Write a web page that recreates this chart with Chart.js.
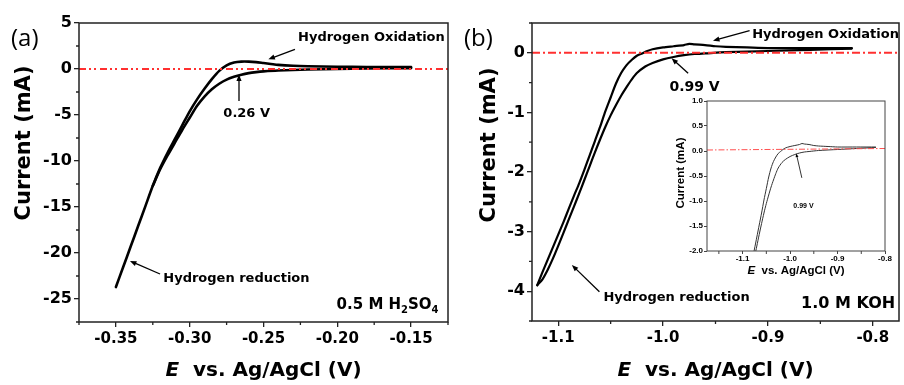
<!DOCTYPE html>
<html>
<head>
<meta charset="utf-8">
<script src="https://cdn.jsdelivr.net/npm/chart.js@4.4.1/dist/chart.umd.min.js"></script>
<style>
  html, body { margin: 0; padding: 0; background: #fff; }
  #wrap { position: relative; width: 904px; height: 385px; overflow: hidden; }
  canvas { position: absolute; }
</style>
</head>
<body>
<div id="wrap">
  <canvas id="chartA" width="456" height="385" style="left:0;top:0"></canvas>
  <canvas id="chartB" width="448" height="385" style="left:456px;top:0"></canvas>
  <canvas id="chartInset" width="235" height="190" style="left:665px;top:92px"></canvas>
</div>
<script>
// ---- (a) 0.5 M H2SO4 ----
const aAnodicE = [-0.350, -0.345, -0.340, -0.335, -0.330, -0.325, -0.320, -0.315, -0.310, -0.305, -0.300, -0.295,
  -0.290, -0.285, -0.280, -0.275, -0.270, -0.265, -0.260, -0.255, -0.250, -0.245, -0.240, -0.230, -0.220, -0.200,
  -0.180, -0.160, -0.150];
const aAnodicI = [-23.7, -21.5, -19.3, -17.1, -14.9, -12.7, -10.75, -9.1, -7.6, -6.1, -4.6, -3.3,
  -2.15, -1.1, -0.2, 0.4, 0.7, 0.8, 0.8, 0.75, 0.65, 0.55, 0.45, 0.35, 0.3, 0.25,
  0.22, 0.2, 0.2];
const aCathodicE = [-0.150, -0.180, -0.200, -0.220, -0.240, -0.250, -0.255, -0.260, -0.265, -0.270, -0.275, -0.280,
  -0.285, -0.290, -0.295, -0.300, -0.305, -0.310, -0.315, -0.320, -0.325];
const aCathodicI = [0.1, 0.05, 0.0, -0.06, -0.16, -0.26, -0.34, -0.45, -0.62, -0.85, -1.15, -1.6,
  -2.2, -3.0, -4.0, -5.3, -6.6, -8.0, -9.4, -10.9, -12.7];
const aXRange = [-0.375, -0.125];
const aYRange = [-27.5, 5];
const aXTicks = [-0.35, -0.30, -0.25, -0.20, -0.15];
const aXMinor = [-0.375, -0.325, -0.275, -0.225, -0.175, -0.125];
const aYTicks = [5, 0, -5, -10, -15, -20, -25];
const aYMinor = [2.5, -2.5, -7.5, -12.5, -17.5, -22.5, -27.5];

// ---- (b) 1.0 M KOH ----
const bAnodicE = [-1.120, -1.115, -1.110, -1.105, -1.100, -1.095, -1.090, -1.085, -1.080, -1.075, -1.070, -1.065,
  -1.060, -1.055, -1.050, -1.045, -1.040, -1.035, -1.030, -1.025, -1.020, -1.015, -1.010, -1.000, -0.990, -0.980,
  -0.975, -0.970, -0.960, -0.950, -0.940, -0.920, -0.900, -0.860, -0.820];
const bAnodicI = [-3.90, -3.68, -3.47, -3.26, -3.05, -2.84, -2.62, -2.40, -2.19, -1.96, -1.72, -1.48,
  -1.24, -0.98, -0.75, -0.52, -0.34, -0.21, -0.12, -0.05, -0.01, 0.03, 0.06, 0.09, 0.11, 0.13,
  0.15, 0.14, 0.13, 0.11, 0.10, 0.09, 0.08, 0.08, 0.08];
const bCathodicE = [-0.820, -0.860, -0.900, -0.940, -0.960, -0.970, -0.980, -0.990, -1.000, -1.010, -1.017, -1.025,
  -1.030, -1.035, -1.040, -1.045, -1.050, -1.055, -1.060, -1.065, -1.070, -1.075, -1.080, -1.085, -1.090, -1.095,
  -1.100, -1.105, -1.110, -1.115, -1.120];
const bCathodicI = [0.07, 0.05, 0.03, 0.01, -0.01, -0.02, -0.04, -0.07, -0.11, -0.17, -0.23, -0.34,
  -0.45, -0.58, -0.72, -0.88, -1.05, -1.24, -1.45, -1.67, -1.90, -2.13, -2.36, -2.58, -2.80, -3.02,
  -3.24, -3.45, -3.64, -3.80, -3.90];
const bXRange = [-1.125, -0.775];
const bYRange = [-4.5, 0.5];
const bXTicks = [-1.1, -1.0, -0.9, -0.8];
const bXMinor = [-1.05, -0.95, -0.85];
const bYTicks = [0, -1, -2, -3, -4];
const bYMinor = [0.5, -0.5, -1.5, -2.5, -3.5, -4.5];

// ---- inset of (b) ----
const insetXRange = [-1.175, -0.8];
const insetYRange = [-2, 1];
const insetZeroI = [0.02, 0.05];
const insetXTicks = [-1.1, -1.0, -0.9, -0.8];
const insetXMinor = [-1.15, -1.05, -0.95, -0.85];
const insetYTicks = [1.0, 0.5, 0.0, -0.5, -1.0, -1.5, -2.0];

const DV = '"DejaVu Sans", sans-serif';
const LS = '"Liberation Sans", Arial, sans-serif';

function toPoints(xs, ys) {
  return xs.map((x, i) => ({ x, y: ys[i] }));
}

function drawArrow(ctx, x1, y1, x2, y2, head) {
  const ang = Math.atan2(y2 - y1, x2 - x1);
  ctx.beginPath();
  ctx.moveTo(x1, y1);
  ctx.lineTo(x2 - Math.cos(ang) * head * 0.7, y2 - Math.sin(ang) * head * 0.7);
  ctx.stroke();
  ctx.beginPath();
  ctx.moveTo(x2, y2);
  ctx.lineTo(x2 - head * Math.cos(ang - 0.38), y2 - head * Math.sin(ang - 0.38));
  ctx.lineTo(x2 - head * Math.cos(ang + 0.38), y2 - head * Math.sin(ang + 0.38));
  ctx.closePath();
  ctx.fill();
}

// frame, minor ticks, axis titles and the arrows/notes
const decorPlugin = {
  id: "decor",
  afterDraw(chart, args, opts) {
    const { ctx, chartArea: area, scales } = chart;
    const sx = scales.x;
    const sy = scales.y;
    const px = (v) => sx.getPixelForValue(v);
    const py = (v) => sy.getPixelForValue(v);

    ctx.save();
    ctx.strokeStyle = opts.frameColor;
    ctx.lineWidth = opts.frameWidth;
    ctx.strokeRect(area.left, area.top, area.right - area.left, area.bottom - area.top);

    ctx.lineWidth = opts.tickWidth;
    ctx.beginPath();
    opts.minorX.forEach((v) => {
      const x = px(v);
      ctx.moveTo(x, area.bottom);
      ctx.lineTo(x, area.bottom + opts.minorLen);
    });
    opts.minorY.forEach((v) => {
      const y = py(v);
      ctx.moveTo(area.left - opts.minorLen, y);
      ctx.lineTo(area.left, y);
    });
    ctx.stroke();

    ctx.fillStyle = "#000";
    ctx.strokeStyle = "#000";

    // y title
    const yt = opts.yTitle;
    ctx.save();
    ctx.translate(yt.x, yt.y);
    ctx.rotate(-Math.PI / 2);
    ctx.font = yt.font;
    ctx.textAlign = "center";
    ctx.textBaseline = "middle";
    ctx.fillText("Current (mA)", 0, 0);
    ctx.restore();

    // x title, italic E
    const xt = opts.xTitle;
    const rest = "  vs. Ag/AgCl (V)";
    ctx.font = `italic bold ${xt.size}px ${xt.family}`;
    const wE = ctx.measureText("E").width;
    ctx.font = `${xt.weight} ${xt.size}px ${xt.family}`;
    const wR = ctx.measureText(rest).width;
    const x0 = (area.left + area.right) / 2 - (wE + wR) / 2;
    ctx.textAlign = "left";
    ctx.textBaseline = "alphabetic";
    ctx.font = `italic bold ${xt.size}px ${xt.family}`;
    ctx.fillText("E", x0, xt.y);
    ctx.font = `${xt.weight} ${xt.size}px ${xt.family}`;
    ctx.fillText(rest, x0 + wE, xt.y);

    if (opts.label) {
      ctx.font = '24px "Open Sans", sans-serif';
      ctx.fillText(opts.label.text, opts.label.x, opts.label.y);
    }

    opts.notes.forEach((n) => {
      if (n.kind === "arrow") {
        ctx.lineWidth = n.width;
        drawArrow(ctx, px(n.from[0]), py(n.from[1]), px(n.to[0]), py(n.to[1]), n.head);
      } else if (n.kind === "text") {
        ctx.font = n.font;
        ctx.textAlign = n.align;
        ctx.fillText(n.text, px(n.at[0]), py(n.at[1]));
      } else if (n.kind === "formula") {
        const widths = n.parts.map(([t, sub]) => {
          ctx.font = `bold ${sub ? n.subSize : n.size}px ${DV}`;
          return ctx.measureText(t).width;
        });
        const total = widths.reduce((s, w) => s + w, 0);
        let x = px(n.at[0]) - total;
        const y = py(n.at[1]);
        ctx.textAlign = "left";
        n.parts.forEach(([t, sub], i) => {
          ctx.font = `bold ${sub ? n.subSize : n.size}px ${DV}`;
          ctx.fillText(t, x, sub ? y + 4 : y);
          x += widths[i];
        });
      }
    });
    ctx.restore();
  },
};

function axis(a) {
  return {
    type: "linear",
    min: a.range[0],
    max: a.range[1],
    afterBuildTicks: (s) => {
      s.ticks = a.ticks.map((v) => ({ value: v }));
    },
    afterFit: (s) => {
      if (s.isHorizontal()) {
        s.height = a.size;
      } else {
        s.width = a.size;
      }
    },
    ticks: {
      autoSkip: false,
      maxRotation: 0,
      color: "#000",
      padding: a.pad,
      font: a.font,
      callback: (v) => Number(v).toFixed(a.digits),
    },
    grid: { drawOnChartArea: false, tickLength: a.tickLen, color: a.tickColor, lineWidth: a.tickWidth },
    border: { display: false },
  };
}

function curve(xs, ys, color, width) {
  return {
    data: toPoints(xs, ys),
    showLine: true,
    borderColor: color,
    borderWidth: width,
    pointRadius: 0,
    tension: 0.25,
    borderCapStyle: "round",
    borderJoinStyle: "round",
  };
}

function zeroLine(xs, ys, color, width, dash) {
  return {
    data: toPoints(xs, ys),
    showLine: true,
    borderColor: color,
    borderWidth: width,
    borderDash: dash,
    pointRadius: 0,
  };
}

function makeChart(id, datasets, padding, xAxis, yAxis, decor) {
  return new Chart(document.getElementById(id), {
    type: "scatter",
    data: { datasets },
    plugins: [decorPlugin],
    options: {
      responsive: false,
      animation: false,
      events: [],
      layout: { padding },
      plugins: { legend: { display: false }, tooltip: { enabled: false }, decor },
      scales: { x: axis(xAxis), y: axis(yAxis) },
    },
  });
}

const mainTickFontX = { family: DV, size: 15, weight: "bold" };
const mainTickFontY = { family: DV, size: 16, weight: "bold" };
const insetTickFont = { family: LS, size: 8, weight: "bold" };

// panel (a)
makeChart(
  "chartA",
  [
    zeroLine(aXRange, [0, 0], "#ff3030", 2, [7, 3, 2, 3, 2, 4]),
    curve(aAnodicE, aAnodicI, "#000", 2.6),
    curve(aCathodicE, aCathodicI, "#000", 2.6),
  ],
  { top: 23, right: 8, left: 0, bottom: 0 },
  { range: aXRange, ticks: aXTicks, digits: 2, size: 63, pad: 3, font: mainTickFontX, tickLen: 5, tickColor: "#222", tickWidth: 1.3 },
  { range: aYRange, ticks: aYTicks, digits: 0, size: 79, pad: 2, font: mainTickFontY, tickLen: 5, tickColor: "#222", tickWidth: 1.3 },
  {
    frameColor: "#222", frameWidth: 1.5, tickWidth: 1.3, minorLen: 3,
    minorX: aXMinor, minorY: aYMinor,
    yTitle: { x: 25, y: 143, font: `bold 21px ${DV}` },
    xTitle: { size: 20, family: DV, weight: "bold", y: 376 },
    label: { text: "(a)", x: 11, y: 46 },
    notes: [
      { kind: "text", at: [-0.2266, 2.99], text: "Hydrogen Oxidation", font: `bold 13px ${DV}`, align: "left" },
      { kind: "arrow", from: [-0.2287, 2.14], to: [-0.2467, 1.05], width: 1.3, head: 7 },
      { kind: "text", at: [-0.2614, -5.18], text: "0.26 V", font: `bold 13px ${DV}`, align: "center" },
      { kind: "arrow", from: [-0.2666, -3.48], to: [-0.2666, -0.6], width: 1.3, head: 7 },
      { kind: "text", at: [-0.3179, -23.12], text: "Hydrogen reduction", font: `bold 13px ${DV}`, align: "left" },
      { kind: "arrow", from: [-0.3201, -22.28], to: [-0.3405, -20.87], width: 1.3, head: 7 },
      { kind: "formula", at: [-0.1314, -26.12], size: 15, subSize: 10,
        parts: [["0.5 M H", false], ["2", true], ["SO", false], ["4", true]] },
    ],
  }
);

// panel (b)
makeChart(
  "chartB",
  [
    zeroLine(bXRange, [0, 0], "#ff3030", 2, [8, 3, 2, 3]),
    curve(bAnodicE, bAnodicI, "#000", 2.2),
    curve(bCathodicE, bCathodicI, "#000", 2.2),
  ],
  { top: 23, right: 5, left: 0, bottom: 0 },
  { range: bXRange, ticks: bXTicks, digits: 1, size: 64, pad: 3, font: mainTickFontX, tickLen: 5, tickColor: "#222", tickWidth: 1.3 },
  { range: bYRange, ticks: bYTicks, digits: 0, size: 76, pad: 2, font: mainTickFontY, tickLen: 5, tickColor: "#222", tickWidth: 1.3 },
  {
    frameColor: "#222", frameWidth: 1.5, tickWidth: 1.3, minorLen: 3,
    minorX: bXMinor, minorY: bYMinor,
    yTitle: { x: 34, y: 145, font: `bold 21px ${DV}` },
    xTitle: { size: 20, family: DV, weight: "bold", y: 376 },
    label: { text: "(b)", x: 8, y: 46 },
    notes: [
      { kind: "text", at: [-0.915, 0.243], text: "Hydrogen Oxidation", font: `bold 13px ${DV}`, align: "left" },
      { kind: "arrow", from: [-0.9175, 0.371], to: [-0.9524, 0.203], width: 1.3, head: 7 },
      { kind: "text", at: [-0.970, -0.636], text: "0.99 V", font: `bold 14px ${DV}`, align: "center" },
      { kind: "arrow", from: [-0.9761, -0.344], to: [-0.9919, -0.092], width: 1.3, head: 7 },
      { kind: "text", at: [-1.0569, -4.159], text: "Hydrogen reduction", font: `bold 13px ${DV}`, align: "left" },
      { kind: "arrow", from: [-1.0607, -4.008], to: [-1.087, -3.56], width: 1.3, head: 7 },
      { kind: "text", at: [-0.7787, -4.287], text: "1.0 M KOH", font: `bold 16px ${DV}`, align: "right" },
    ],
  }
);

// inset
makeChart(
  "chartInset",
  [
    zeroLine(insetXRange, insetZeroI, "#ff5050", 1, [6, 2, 1.5, 2]),
    curve(bAnodicE, bAnodicI, "#333", 1),
    curve(bCathodicE, bCathodicI, "#333", 1),
  ],
  { top: 9, right: 15, left: 0, bottom: 0 },
  { range: insetXRange, ticks: insetXTicks, digits: 1, size: 31, pad: 0, font: insetTickFont, tickLen: 3, tickColor: "#444", tickWidth: 1 },
  { range: insetYRange, ticks: insetYTicks, digits: 1, size: 42, pad: 1, font: insetTickFont, tickLen: 3, tickColor: "#444", tickWidth: 1 },
  {
    frameColor: "#444", frameWidth: 1, tickWidth: 1, minorLen: 3,
    minorX: insetXMinor, minorY: [],
    yTitle: { x: 16, y: 81, font: `bold 11.5px ${LS}` },
    xTitle: { size: 11.5, family: LS, weight: "bold", y: 182 },
    label: null,
    notes: [
      { kind: "text", at: [-0.9718, -1.144], text: "0.99 V", font: `bold 7px ${LS}`, align: "center" },
      { kind: "arrow", from: [-0.9752, -0.537], to: [-0.987, -0.048], width: 0.8, head: 4 },
    ],
  }
);
</script>
</body>
</html>
